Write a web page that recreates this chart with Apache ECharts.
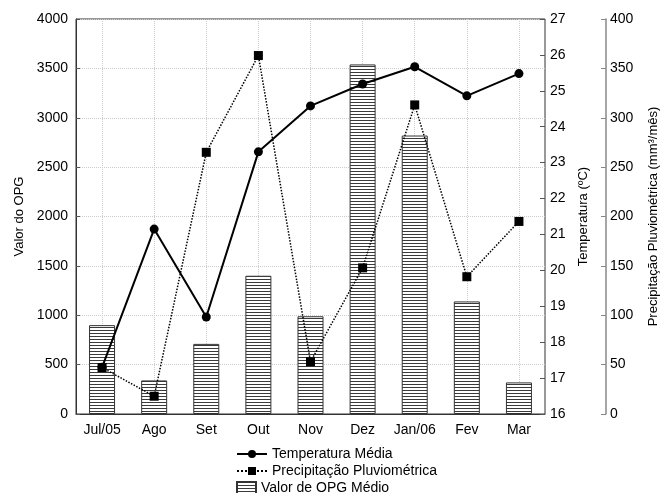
<!DOCTYPE html>
<html><head><meta charset="utf-8">
<script src="https://cdn.jsdelivr.net/npm/echarts@6/dist/echarts.min.js"></script>
<style>html,body{margin:0;padding:0;background:#fff}#c{width:662px;height:493px}</style>
</head><body><div id="c"></div>
<script>
const categories = ['Jul/05','Ago','Set','Out','Nov','Dez','Jan/06','Fev','Mar'];
const opgValues = [900, 340, 710, 1400, 990, 3540, 2820, 1140, 320];
const tempValues = [17.3, 21.15, 18.7, 23.3, 24.58, 25.19, 25.67, 24.86, 25.48];
const precipValues = [47, 18, 265, 363, 53, 148, 313, 139, 195];

const FONT = '"Liberation Sans", Arial, sans-serif';
const pc = document.createElement('canvas');
pc.width = 4; pc.height = 3;
const ctx = pc.getContext('2d');
ctx.fillStyle = '#fff'; ctx.fillRect(0,0,4,3);
ctx.fillStyle = '#3a3a3a'; ctx.fillRect(0,0,4,1);
const hatch = {image: pc, repeat: 'repeat'};

const chart = echarts.init(document.getElementById('c'));
const txt = {fontFamily: FONT, fontSize: 14, color: '#000'};
const plain = v => String(v);
chart.setOption({
  animation: false,
  backgroundColor: '#fff',
  grid: {left: 76, right: 117, top: 19, bottom: 79, show: true, borderColor: '#333', borderWidth: 1,
         containLabel: false, outerBoundsMode: 'none'},
  legend: [
    {left: 231, top: 442, itemWidth: 30, itemHeight: 10, textStyle: txt, data: ['Temperatura Média']},
    {left: 231, top: 459, itemWidth: 30, itemHeight: 10, textStyle: txt, data: ['Precipitação Pluviométrica']},
    {left: 231, top: 476, itemWidth: 19, itemHeight: 12, textStyle: txt, data: [{name: 'Valor de OPG Médio', icon: 'rect'}]}
  ],
  xAxis: [
    {type: 'category', data: categories, position: 'bottom',
     axisLine: {lineStyle: {color: '#333'}},
     axisTick: {alignWithLabel: true, inside: true, length: 4, lineStyle: {color: '#555'}},
     axisLabel: Object.assign({margin: 9, interval: 0}, txt)},
    {type: 'category', data: categories, position: 'top',
     axisLine: {show: false},
     axisTick: {alignWithLabel: true, inside: true, length: 4, lineStyle: {color: '#555'}},
     axisLabel: {show: false}}
  ],
  yAxis: [
    {type: 'value', min: 0, max: 4000, interval: 500, position: 'left',
     name: 'Valor do OPG', nameLocation: 'middle', nameGap: 50, nameRotate: 90,
     nameTextStyle: {fontFamily: FONT, fontSize: 13, color: '#000'},
     axisLine: {show: true, lineStyle: {color: '#333'}},
     axisTick: {show: true, inside: true, length: 4, lineStyle: {color: '#555'}},
     axisLabel: Object.assign({margin: 8, formatter: plain}, txt),
     splitLine: {show: true, lineStyle: {color: '#ccc', type: 'dotted'}}},
    {type: 'value', min: 16, max: 27, interval: 1, position: 'right',
     name: 'Temperatura (ºC)', nameLocation: 'middle', nameGap: 32, nameRotate: 90,
     nameTextStyle: {fontFamily: FONT, fontSize: 13, color: '#000'},
     axisLine: {show: false},
     axisTick: {show: true, inside: true, length: 5, lineStyle: {color: '#555'}},
     axisLabel: Object.assign({margin: 5, formatter: plain}, txt),
     splitLine: {show: false}},
    {type: 'value', min: 0, max: 400, interval: 50, position: 'right', offset: 61,
     name: 'Precipitação Pluviométrica (mm³/mês)', nameLocation: 'middle', nameGap: 41, nameRotate: 90,
     nameTextStyle: {fontFamily: FONT, fontSize: 13, color: '#000'},
     axisLine: {show: true, lineStyle: {color: '#888', width: 1.5}},
     axisTick: {show: true, inside: true, length: 5, lineStyle: {color: '#888'}},
     axisLabel: Object.assign({margin: 4, formatter: plain}, txt),
     splitLine: {show: false}}
  ],
  series: [
    {type: 'line', name: '_grid', data: [], z: 0, silent: true,
     markLine: {silent: true, z: 0, symbol: 'none', label: {show: false},
       lineStyle: {color: '#ccc', type: 'dotted', width: 1},
       data: categories.map(c => ({xAxis: c}))}},
    {type: 'bar', name: 'Valor de OPG Médio', data: opgValues, barWidth: 26, yAxisIndex: 0, z: 2,
     itemStyle: {color: hatch, borderColor: '#333', borderWidth: 1}},
    {type: 'line', name: 'Temperatura Média', data: tempValues, yAxisIndex: 1, z: 4,
     symbol: 'circle', symbolSize: 9,
     itemStyle: {color: '#000'}, lineStyle: {color: '#000', width: 2}},
    {type: 'line', name: 'Precipitação Pluviométrica', data: precipValues, yAxisIndex: 2, z: 3,
     symbol: 'rect', symbolSize: 9,
     itemStyle: {color: '#000'}, lineStyle: {color: '#000', width: 1.5, type: 'dotted'}}
  ]
});
</script></body></html>
